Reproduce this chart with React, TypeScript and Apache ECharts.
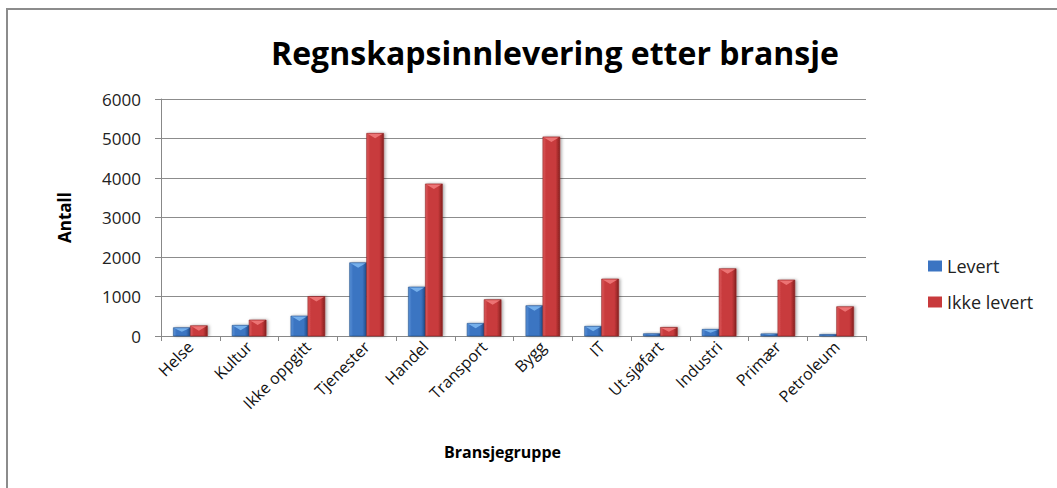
import React, { useEffect, useRef } from "react";
import * as echarts from "echarts";

const categories = ["Helse", "Kultur", "Ikke oppgitt", "Tjenester", "Handel", "Transport", "Bygg", "IT", "Ut.sjøfart", "Industri", "Primær", "Petroleum"];
const levert = [210, 270, 505, 1855, 1240, 320, 767, 245, 58, 168, 55, 40];
const ikkeLevert = [260, 405, 1000, 5130, 3850, 920, 5040, 1443, 218, 1704, 1418, 742];
const yTicks = [0, 1000, 2000, 3000, 4000, 5000, 6000];

const FONT = "'Open Sans', Lato, sans-serif";
const BAR_W = 17;

type Pal = { light: string; mid: string; dark: string; bevel: string; edge: string };
const bluePal: Pal = { light: "#5a92d8", mid: "#3b74c2", dark: "#1f4a85", bevel: "#7cb6f0", edge: "#24508c" };
const redPal: Pal = { light: "#dc5b5d", mid: "#c83a3c", dark: "#86201f", bevel: "#f07a7a", edge: "#8e2424" };

function makeRender(offset: number, pal: Pal) {
  return (params: any, api: any) => {
    const idx = api.value(0);
    const val = api.value(1);
    const base = api.coord([idx, 0]);
    const top = api.coord([idx, val]);
    const x = base[0] + offset - BAR_W / 2;
    const y = top[1];
    const h = base[1] - top[1];
    const bev = Math.min(5, h * 0.5);
    return {
      type: "group",
      children: [
        {
          type: "rect",
          shape: { x, y, width: BAR_W, height: h },
          style: {
            fill: new echarts.graphic.LinearGradient(0, 0, 1, 0, [
              { offset: 0, color: pal.light },
              { offset: 0.2, color: pal.mid },
              { offset: 0.75, color: pal.mid },
              { offset: 1, color: pal.dark },
            ]),
            stroke: pal.edge,
            lineWidth: 0.6,
            shadowColor: "rgba(0,0,0,0.35)",
            shadowBlur: 3,
            shadowOffsetX: 1.5,
            shadowOffsetY: 0,
          },
        },
        {
          type: "polygon",
          shape: {
            points: [
              [x + 1, y + 0.5],
              [x + BAR_W - 1, y + 0.5],
              [x + BAR_W / 2, y + bev],
            ],
          },
          style: { fill: pal.bevel, opacity: 0.9 },
        },
      ],
    };
  };
}

export default function App() {
  const ref = useRef<HTMLDivElement>(null);
  useEffect(() => {
    if (!ref.current) return;
    const chart = echarts.init(ref.current, null, { renderer: "svg" });
    chart.setOption({
      animation: false,
      backgroundColor: "#ffffff",
      graphic: [
        {
          type: "rect",
          shape: { x: 7, y: 9, width: 1060, height: 500 },
          style: { fill: "none", stroke: "#8c8c8c", lineWidth: 2 },
          silent: true,
        },
      ],
      title: {
        text: "Regnskapsinnlevering etter bransje",
        left: 550,
        textAlign: "center",
        top: 31,
        textStyle: { fontFamily: FONT, fontSize: 32, fontWeight: "bold", color: "#000" },
      },
      legend: {
        orient: "vertical",
        left: 923,
        top: 252,
        icon: "rect",
        itemWidth: 14,
        itemHeight: 11,
        itemGap: 18,
        textStyle: { fontFamily: FONT, fontSize: 18, color: "#222" },
        data: ["Levert", "Ikke levert"],
      },
      grid: { left: 161, right: 191, top: 99, bottom: 152, containLabel: false },
      xAxis: {
        type: "category",
        data: categories,
        axisLine: { lineStyle: { color: "#888", width: 1 } },
        axisTick: { show: true, length: 5, lineStyle: { color: "#888" } },
        axisLabel: { rotate: 45, interval: 0, margin: 8, fontFamily: FONT, fontSize: 16, color: "#111" },
        name: "Bransjegruppe",
        nameLocation: "middle",
        nameGap: 108,
        nameTextStyle: { fontFamily: FONT, fontSize: 16, fontWeight: "bold", color: "#000", padding: [0, 22, 0, 0] },
      },
      yAxis: {
        type: "value",
        min: yTicks[0],
        max: yTicks[yTicks.length - 1],
        interval: 1000,
        axisLine: { show: true, lineStyle: { color: "#888" } },
        axisTick: { show: true, length: 6, lineStyle: { color: "#888" } },
        axisLabel: { margin: 20, fontFamily: FONT, fontSize: 17, color: "#222", formatter: (v: number) => String(v) },
        splitLine: { lineStyle: { color: "#8c8c8c", width: 1 } },
        name: "Antall",
        nameLocation: "middle",
        nameGap: 88,
        nameRotate: 90,
        nameTextStyle: { fontFamily: FONT, fontSize: 17, fontWeight: "bold", color: "#000" },
      },
      series: [
        {
          name: "Levert",
          type: "custom",
          color: bluePal.mid,
          itemStyle: { color: bluePal.mid },
          encode: { x: 0, y: 1 },
          data: levert.map((v, i) => [i, v]),
          renderItem: makeRender(-BAR_W / 2, bluePal),
        },
        {
          name: "Ikke levert",
          type: "custom",
          color: redPal.mid,
          itemStyle: { color: redPal.mid },
          encode: { x: 0, y: 1 },
          data: ikkeLevert.map((v, i) => [i, v]),
          renderItem: makeRender(BAR_W / 2, redPal),
        },
      ],
    });
    return () => chart.dispose();
  }, []);
  return <div ref={ref} style={{ position: "fixed", left: 0, top: 0, width: 1057, height: 488 }} />;
}
